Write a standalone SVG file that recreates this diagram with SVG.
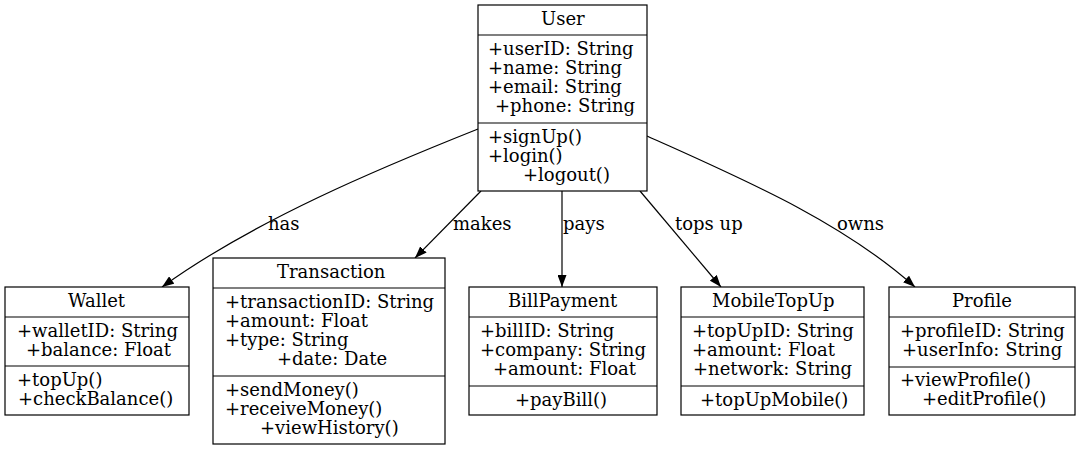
<svg xmlns="http://www.w3.org/2000/svg" width="1080" height="449" viewBox="0 0 1080 449">
<style>
text{font-family:"DejaVu Serif","Liberation Serif",serif;font-size:18px;fill:#000}
.box{fill:#fff;stroke:#000;stroke-width:1.2}
.sep{stroke:#000;stroke-width:1.2}
.edge{fill:none;stroke:#000;stroke-width:1.2}
</style>
<defs>
<marker id="arr" viewBox="0 0 12 9" refX="12" refY="4.5" markerWidth="12" markerHeight="9" markerUnits="userSpaceOnUse" orient="auto">
<path d="M0,0 L12,4.5 L0,9 z" fill="#000"/>
</marker>
</defs>
<rect width="1080" height="449" fill="#fff"/>
<g id="connectors">
<path class="edge" d="M478,129 C380,168 255,220 162,287" marker-end="url(#arr)"/>
<text x="268" y="230">has</text>
<path class="edge" d="M481,191 L415,258" marker-end="url(#arr)"/>
<text x="453" y="230">makes</text>
<path class="edge" d="M562,191 L562,287" marker-end="url(#arr)"/>
<text x="563" y="230">pays</text>
<path class="edge" d="M640,191 L721,287" marker-end="url(#arr)"/>
<text x="675" y="230">tops up</text>
<path class="edge" d="M647,136 C740,178 840,220 915,287" marker-end="url(#arr)"/>
<text x="837" y="230">owns</text>
</g>
<g id="User">
<rect class="box" x="478" y="5" width="169" height="186"/>
<line class="sep" x1="478" y1="35" x2="647" y2="35"/>
<line class="sep" x1="478" y1="123" x2="647" y2="123"/>
<text x="541" y="25">User</text>
<text x="488" y="55">+userID: String</text>
<text x="488" y="74">+name: String</text>
<text x="488" y="93">+email: String</text>
<text x="495" y="112">+phone: String</text>
<text x="488" y="143">+signUp()</text>
<text x="488" y="162">+login()</text>
<text x="523" y="181">+logout()</text>
</g>
<g id="Wallet">
<rect class="box" x="5" y="287" width="184" height="128"/>
<line class="sep" x1="5" y1="317" x2="189" y2="317"/>
<line class="sep" x1="5" y1="366" x2="189" y2="366"/>
<text x="68" y="307">Wallet</text>
<text x="17" y="337">+walletID: String</text>
<text x="26" y="356">+balance: Float</text>
<text x="17" y="386">+topUp()</text>
<text x="18" y="405">+checkBalance()</text>
</g>
<g id="Transaction">
<rect class="box" x="213" y="258" width="232" height="186"/>
<line class="sep" x1="213" y1="288" x2="445" y2="288"/>
<line class="sep" x1="213" y1="376" x2="445" y2="376"/>
<text x="277" y="278">Transaction</text>
<text x="225" y="308">+transactionID: String</text>
<text x="225" y="327">+amount: Float</text>
<text x="225" y="346">+type: String</text>
<text x="277" y="365">+date: Date</text>
<text x="225" y="396">+sendMoney()</text>
<text x="225" y="415">+receiveMoney()</text>
<text x="260" y="434">+viewHistory()</text>
</g>
<g id="BillPayment">
<rect class="box" x="469" y="287" width="188" height="128"/>
<line class="sep" x1="469" y1="317" x2="657" y2="317"/>
<line class="sep" x1="469" y1="386" x2="657" y2="386"/>
<text x="508" y="307">BillPayment</text>
<text x="480" y="337">+billID: String</text>
<text x="480" y="356">+company: String</text>
<text x="493" y="375">+amount: Float</text>
<text x="515" y="406">+payBill()</text>
</g>
<g id="MobileTopUp">
<rect class="box" x="681" y="287" width="183" height="128"/>
<line class="sep" x1="681" y1="317" x2="864" y2="317"/>
<line class="sep" x1="681" y1="386" x2="864" y2="386"/>
<text x="712" y="307">MobileTopUp</text>
<text x="692" y="337">+topUpID: String</text>
<text x="692" y="356">+amount: Float</text>
<text x="693" y="375">+network: String</text>
<text x="700" y="406">+topUpMobile()</text>
</g>
<g id="Profile">
<rect class="box" x="889" y="287" width="186" height="128"/>
<line class="sep" x1="889" y1="317" x2="1075" y2="317"/>
<line class="sep" x1="889" y1="367" x2="1075" y2="367"/>
<text x="952" y="307">Profile</text>
<text x="900" y="337">+profileID: String</text>
<text x="902" y="356">+userInfo: String</text>
<text x="900" y="386">+viewProfile()</text>
<text x="922" y="405">+editProfile()</text>
</g>
</svg>
